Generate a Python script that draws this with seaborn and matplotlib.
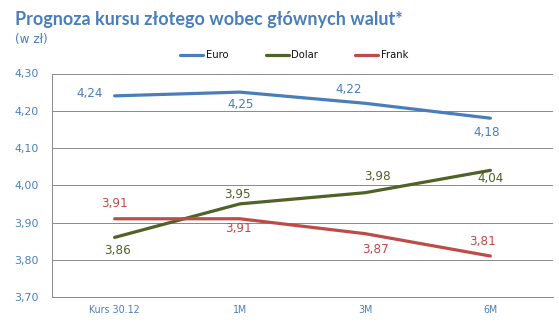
import matplotlib
matplotlib.use("Agg")
import matplotlib.pyplot as plt
import seaborn as sns
import pandas as pd
from matplotlib.ticker import FuncFormatter, MultipleLocator

categories = ["Kurs 30.12", "1M", "3M", "6M"]
euro = [4.24, 4.25, 4.22, 4.18]
dolar = [3.86, 3.95, 3.98, 4.04]
frank = [3.91, 3.91, 3.87, 3.81]
series_names = ["Euro", "Dolar", "Frank"]

colors = {"Euro": "#4A7EBB", "Dolar": "#4F6228", "Frank": "#BE4B48"}
# label offsets (points) per series/category
offsets = {
    "Euro": [(-25, 2), (1, -12), (-16, 14), (-4, -14)],
    "Dolar": [(3, -13), (-2, 9), (12, 16), (0, -8)],
    "Frank": [(0, 15), (-1, -10), (10, -16), (-8, 15)],
}

sns.set_style("white")
plt.rcParams["font.family"] = ["DejaVu Sans"]

rows = []
for name, vals in zip(series_names, [euro, dolar, frank]):
    for c, v in zip(categories, vals):
        rows.append({"cat": c, "val": v, "series": name})
df = pd.DataFrame(rows)

fig = plt.figure(figsize=(559 / 72, 330 / 72), dpi=72)
ax = fig.add_axes([52 / 559, 1 - 297 / 330, (553 - 52) / 559, (297 - 73.5) / 330])

sns.lineplot(data=df, x="cat", y="val", hue="series", palette=colors,
             hue_order=series_names, sort=False, linewidth=3.2, ax=ax)

ax.set_xlim(-0.5, 3.5)
ax.set_ylim(3.70, 4.30)
ax.yaxis.set_major_locator(MultipleLocator(0.1))
ax.yaxis.set_major_formatter(FuncFormatter(lambda v, p: f"{v:.2f}".replace(".", ",")))
ax.grid(axis="y", color="#8C8C8C", linewidth=1)
ax.set_axisbelow(True)
for s in ["top", "right"]:
    ax.spines[s].set_visible(False)
for s in ["left", "bottom"]:
    ax.spines[s].set_color("#8C8C8C")
    ax.spines[s].set_linewidth(1)
ax.tick_params(axis="y", length=0, pad=13, labelsize=11, labelcolor="#4A7EBB")
ax.tick_params(axis="x", length=0, pad=8, labelsize=9.5, labelcolor="#4A7EBB")
ax.set_xlabel("")
ax.set_ylabel("")

for name, vals in zip(series_names, [euro, dolar, frank]):
    for i, v in enumerate(vals):
        ax.annotate(f"{v:.2f}".replace(".", ","), (i, v), xytext=offsets[name][i],
                    textcoords="offset points", ha="center", va="center",
                    fontsize=12, color=colors[name])

handles, labels = ax.get_legend_handles_labels()
ax.get_legend().remove()
fig.legend(handles, labels, loc="center left", bbox_to_anchor=(180 / 559, 1 - 55 / 330),
           ncol=3, frameon=False, fontsize=10, handlelength=2.3, handletextpad=0.3,
           columnspacing=3.7, borderpad=0, borderaxespad=0, labelcolor="#111111")

fig.text(15 / 559, 1 - 20 / 330, "Prognoza kursu złotego wobec głównych walut*",
         fontsize=18, fontweight="bold", color="#4A7EBB", va="center", ha="left",
         family="Lato")
fig.text(15 / 559, 1 - 40 / 330, "(w zł)", fontsize=12, color="#4A7EBB",
         va="center", ha="left")

fig.savefig("out.png", dpi=72)
